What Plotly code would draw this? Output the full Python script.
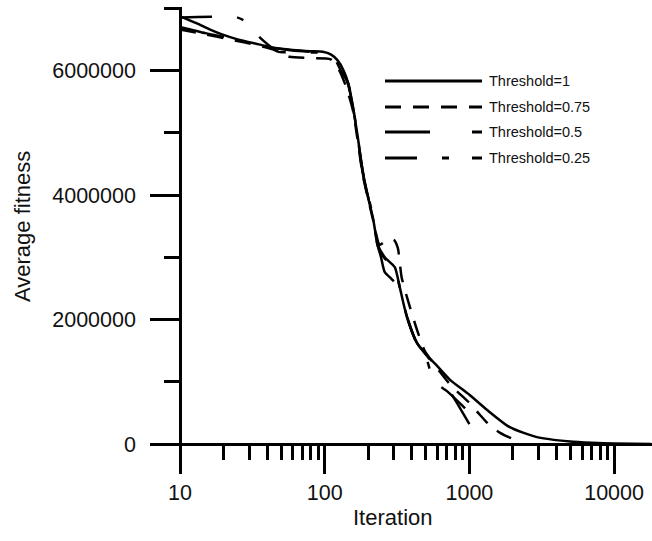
import plotly.graph_objects as go

# ---------------- data ----------------
series_names = ["Threshold=1", "Threshold=0.75", "Threshold=0.5", "Threshold=0.25"]

iter_t100 = [10, 13, 16, 19.5, 25, 35, 45, 60, 80, 97, 110, 122, 135, 145, 157, 170, 184, 200,
             216, 233, 260, 305, 330, 370, 435, 530, 600, 735, 1000, 1320, 1900, 2930, 4950,
             7000, 10000, 18000]
fit_t100 = [6.87e6, 6.76e6, 6.66e6, 6.58e6, 6.50e6, 6.42e6, 6.36e6, 6.33e6, 6.31e6, 6.30e6,
            6.26e6, 6.17e6, 6.00e6, 5.80e6, 5.41e6, 4.90e6, 4.35e6, 3.95e6, 3.62e6, 3.20e6,
            3.00e6, 2.84e6, 2.52e6, 2.04e6, 1.62e6, 1.38e6, 1.25e6, 1.03e6, 0.79e6, 0.55e6,
            0.27e6, 0.11e6, 0.04e6, 0.02e6, 0.008e6, 0.002e6]

iter_t075 = [10, 15, 22, 35, 45, 57, 80, 110, 125, 140, 157, 184, 216, 240, 270, 300, 320,
             340, 380, 435, 490, 530, 740, 1000, 1150, 1380, 1630, 2000, 2300]
fit_t075 = [6.66e6, 6.58e6, 6.50e6, 6.40e6, 6.33e6, 6.22e6, 6.20e6, 6.18e6, 6.02e6, 5.75e6,
            5.35e6, 4.30e6, 3.60e6, 3.20e6, 3.28e6, 3.28e6, 3.15e6, 2.68e6, 2.27e6, 1.83e6,
            1.50e6, 1.38e6, 0.95e6, 0.66e6, 0.50e6, 0.30e6, 0.18e6, 0.08e6, 0.03e6]

iter_t050 = [10, 15, 22, 35, 45, 60, 80, 97, 110, 122, 135, 145, 157, 184, 216, 230, 245, 260,
             290, 330, 370, 435, 530, 620, 700, 820, 1000]
fit_t050 = [6.70e6, 6.60e6, 6.52e6, 6.42e6, 6.36e6, 6.32e6, 6.30e6, 6.29e6, 6.25e6, 6.15e6,
            5.98e6, 5.78e6, 5.40e6, 4.33e6, 3.62e6, 3.23e6, 3.00e6, 2.76e6, 2.65e6, 2.50e6,
            2.04e6, 1.62e6, 1.36e6, 1.10e6, 0.92e6, 0.66e6, 0.32e6]

iter_t025 = [10, 25, 30, 36, 48, 60, 80, 100, 115, 128, 145, 157, 184, 216, 233, 260, 305, 330,
             370, 435, 500, 570, 700, 890, 1000, 1100]
fit_t025 = [6.85e6, 6.85e6, 6.75e6, 6.52e6, 6.30e6, 6.30e6, 6.29e6, 6.28e6, 6.22e6, 6.02e6,
            5.80e6, 5.42e6, 4.36e6, 3.64e6, 3.18e6, 2.98e6, 2.83e6, 2.52e6, 2.05e6, 1.60e6,
            1.40e6, 1.00e6, 0.85e6, 0.62e6, 0.50e6, 0.38e6]

x_major_ticks = [10, 100, 1000, 10000]
x_minor_ticks = [20, 30, 40, 50, 60, 70, 80, 90, 200, 300, 400, 500, 600, 700, 800, 900,
                 2000, 3000, 4000, 5000, 6000, 7000, 8000, 9000]
y_major_ticks = [0, 2000000, 4000000, 6000000]
y_minor_ticks = [1000000, 3000000, 5000000, 7000000]

# ---------------- styling ----------------
W, H = 652, 541
ML, MR, MT, MB = 150, 0, 7, 81
PW, PH = W - ML - MR, H - MT - MB
FONT = "Liberation Sans, Arial, sans-serif"
dashes = ["solid", "16px,12px", "45px,42px", "32px,25px,7px,23px"]
LW = 2.5


def px_x(p):
    return (p - ML) / PW


def px_y(p):
    return (H - MB - p) / PH


fig = go.Figure()
all_x = [iter_t100, iter_t075, iter_t050, iter_t025]
all_y = [fit_t100, fit_t075, fit_t050, fit_t025]
for name, xs, ys, d in zip(series_names, all_x, all_y, dashes):
    fig.add_trace(go.Scatter(x=xs, y=ys, mode="lines", name=name,
                             line=dict(color="black", width=LW, dash=d, shape="spline",
                                       smoothing=0.6),
                             showlegend=False))

# custom legend (long line samples)
leg_y = [81, 107, 132, 158]
for name, d, yy in zip(series_names, dashes, leg_y):
    fig.add_shape(type="line", xref="paper", yref="paper",
                  x0=px_x(385), x1=px_x(482), y0=px_y(yy), y1=px_y(yy),
                  line=dict(color="black", width=3, dash=d))
    fig.add_annotation(x=px_x(487), y=px_y(yy), xref="paper", yref="paper",
                       text=name, showarrow=False, xanchor="left", yanchor="middle",
                       font=dict(family=FONT, size=14.5, color="#111"))

# axis titles
fig.add_annotation(x=px_x(393), y=px_y(517), xref="paper", yref="paper", text="Iteration",
                   showarrow=False, xanchor="center", yanchor="middle",
                   font=dict(family=FONT, size=22, color="#111"))
fig.add_annotation(x=px_x(22), y=px_y(227), xref="paper", yref="paper", text="Average fitness",
                   showarrow=False, xanchor="center", yanchor="middle", textangle=-90,
                   font=dict(family=FONT, size=22, color="#111"))

x_lo = 1 + (ML - 180) / 144.7
x_hi = 1 + (W - MR - 180) / 144.7
y_lo = -(H - MB - 444) / 62.25 * 1e6
y_hi = (444 - MT) / 62.25 * 1e6

fig.update_layout(
    width=W, height=H,
    margin=dict(l=ML, r=MR, t=MT, b=MB),
    paper_bgcolor="white", plot_bgcolor="white",
    font=dict(family=FONT, color="#111"),
    xaxis=dict(type="log", range=[x_lo, x_hi], anchor="free", position=px_y(444),
               showline=True, linecolor="black", linewidth=LW, showgrid=False, zeroline=False,
               tickmode="array", tickvals=x_major_ticks,
               ticktext=[str(v) for v in x_major_ticks],
               ticks="outside", ticklen=28, tickwidth=LW, tickcolor="black",
               ticklabelstandoff=0,
               tickfont=dict(family=FONT, size=21.5, color="#111"),
               minor=dict(tickmode="array", tickvals=x_minor_ticks, ticks="outside",
                          ticklen=14, tickwidth=LW, tickcolor="black", showgrid=False)),
    yaxis=dict(range=[y_lo, y_hi], anchor="free", position=px_x(180),
               showline=True, linecolor="black", linewidth=LW, showgrid=False, zeroline=False,
               tickmode="array", tickvals=y_major_ticks,
               ticktext=[str(v) for v in y_major_ticks],
               ticks="outside", ticklen=29, tickwidth=LW, tickcolor="black",
               ticklabelstandoff=10,
               tickfont=dict(family=FONT, size=21.5, color="#111"),
               minor=dict(tickmode="array", tickvals=y_minor_ticks, ticks="outside",
                          ticklen=15, tickwidth=LW, tickcolor="black", showgrid=False)),
)

fig.write_html("out.html")
